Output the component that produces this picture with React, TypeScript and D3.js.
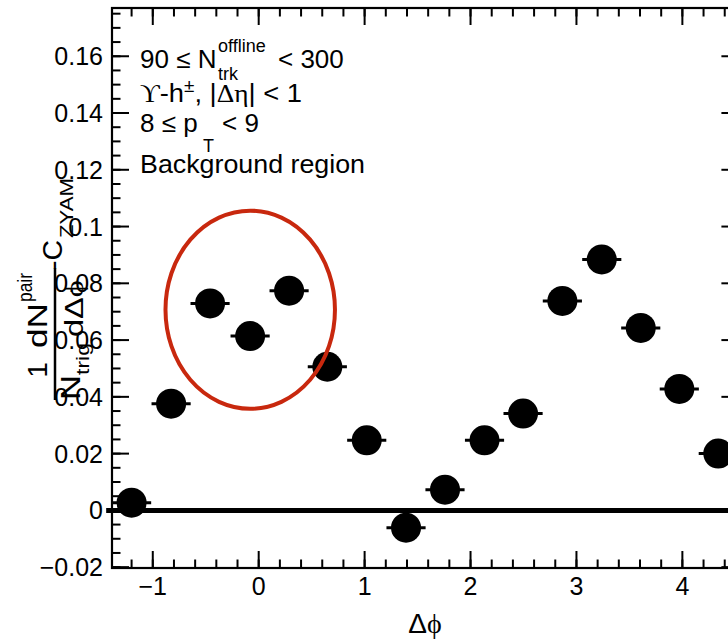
import React from 'react';
import * as d3 from 'd3';

// ---- data ----
const dphi = [-1.200, -0.827, -0.459, -0.081, 0.287, 0.648, 1.020, 1.391, 1.759, 2.132, 2.496, 2.867, 3.239, 3.607, 3.971, 4.339];
const yields = [0.0027, 0.0376, 0.0729, 0.0614, 0.0774, 0.0506, 0.0247, -0.0061, 0.0073, 0.0247, 0.0341, 0.0738, 0.0884, 0.0643, 0.0428, 0.0200];
const binHalfWidth = 0.1848;

const xMajorTicks = [-1, 0, 1, 2, 3, 4];
const xTickLabels = ['\u22121', '0', '1', '2', '3', '4'];
const yMajorTicks = [-0.02, 0, 0.02, 0.04, 0.06, 0.08, 0.1, 0.12, 0.14, 0.16];
const yTickLabels = ['\u22120.02', '0', '0.02', '0.04', '0.06', '0.08', '0.1', '0.12', '0.14', '0.16'];

// highlighted region (ellipse) in data units
const ellipseCenter = [-0.08, 0.0707];
const ellipseRadii = [0.80, 0.0349];

const W = 728;
const H = 643;
const SANS = '"Liberation Sans", Arial, Helvetica, sans-serif';
const SERIF = '"Liberation Serif", "DejaVu Serif", serif';

export default function App() {
  const x = d3.scaleLinear().domain([-1.385, 4.529]).range([112, 738.4]);
  const y = d3.scaleLinear().domain([-0.0203, 0.177]).range([568, 8]);
  const [x0, x1] = x.range();
  const [yb, yt] = y.range();

  const xMinor = d3.range(-1.2, 4.6, 0.2).filter(v => v >= -1.385 && v <= 4.529);
  const yMinor = d3.range(-0.02, 0.1771, 0.005).filter(v => v >= -0.0203 && v <= 0.177);

  const majLen = 17;
  const minLen = 8.5;

  return (
    <svg width={W} height={H} style={{ position: 'absolute', left: 0, top: 0, background: '#fff' }}
      fontFamily={SANS}>
      <rect x={0} y={0} width={W} height={H} fill="#fff" />

      {/* zero line */}
      <line x1={x(-1.44)} x2={x1} y1={y(0)} y2={y(0)} stroke="#000" strokeWidth={5} />

      {/* ticks */}
      <g stroke="#000" strokeWidth={2}>
        {xMinor.map((v, i) => (
          <g key={'xm' + i}>
            <line x1={x(v)} x2={x(v)} y1={yb} y2={yb - minLen} />
            <line x1={x(v)} x2={x(v)} y1={yt} y2={yt + minLen} />
          </g>
        ))}
        {xMajorTicks.map((v, i) => (
          <g key={'xM' + i}>
            <line x1={x(v)} x2={x(v)} y1={yb} y2={yb - majLen} />
            <line x1={x(v)} x2={x(v)} y1={yt} y2={yt + majLen} />
          </g>
        ))}
        {yMinor.map((v, i) => (
          <g key={'ym' + i}>
            <line x1={x0} x2={x0 + minLen} y1={y(v)} y2={y(v)} />
            <line x1={x1} x2={x1 - minLen} y1={y(v)} y2={y(v)} />
          </g>
        ))}
        {yMajorTicks.map((v, i) => (
          <g key={'yM' + i}>
            <line x1={x0} x2={x0 + majLen} y1={y(v)} y2={y(v)} />
            <line x1={x1} x2={x1 - majLen} y1={y(v)} y2={y(v)} />
          </g>
        ))}
      </g>

      {/* frame */}
      <rect x={x0} y={yt} width={x1 - x0} height={yb - yt} fill="none" stroke="#000" strokeWidth={2.2} />

      {/* tick labels */}
      {xMajorTicks.map((v, i) => (
        <text key={'xl' + i} x={x(v)} y={595} fontSize={25} textAnchor="middle">{xTickLabels[i]}</text>
      ))}
      {yMajorTicks.map((v, i) => (
        <text key={'yl' + i} x={103} y={y(v) + 9} fontSize={25} textAnchor="end">{yTickLabels[i]}</text>
      ))}

      {/* data: error bars + markers */}
      {dphi.map((v, i) => (
        <g key={'p' + i}>
          <line x1={x(v - binHalfWidth)} x2={x(v + binHalfWidth)} y1={y(yields[i])} y2={y(yields[i])}
            stroke="#000" strokeWidth={3} />
          <circle cx={x(v)} cy={y(yields[i])} r={15} fill="#000" />
        </g>
      ))}

      {/* highlighted ellipse */}
      <ellipse cx={x(ellipseCenter[0])} cy={y(ellipseCenter[1])}
        rx={x(ellipseCenter[0] + ellipseRadii[0]) - x(ellipseCenter[0])}
        ry={y(ellipseCenter[1]) - y(ellipseCenter[1] + ellipseRadii[1])}
        fill="none" stroke="#c8280e" strokeWidth={4} />

      {/* x-axis title */}
      <text x={425} y={633} fontSize={28} textAnchor="middle">
        <tspan>Δ</tspan><tspan fontFamily={SERIF}>ϕ</tspan>
      </text>

      {/* y-axis title: 1/N_trig dN^pair/dΔφ − C_ZYAM */}
      <g transform="translate(55,400) rotate(-90)">
        <line x1={0} x2={132} y1={0} y2={0} stroke="#000" strokeWidth={2.5} />
        <text x={30} y={-8} fontSize={28} textAnchor="middle">1</text>
        <text x={0} y={25} fontSize={27} textLength={25} lengthAdjust="spacingAndGlyphs">N</text>
        <text x={25} y={34} fontSize={19} textLength={32} lengthAdjust="spacingAndGlyphs">trig</text>
        <text x={52} y={-8} fontSize={28} textLength={45} lengthAdjust="spacingAndGlyphs">dN</text>
        <text x={98} y={-23} fontSize={20} textLength={29} lengthAdjust="spacingAndGlyphs">pair</text>
        <text x={63} y={28} fontSize={25} textLength={57} lengthAdjust="spacingAndGlyphs">
          <tspan>dΔ</tspan><tspan fontFamily={SERIF}>ϕ</tspan>
        </text>
        <text x={130} y={7} fontSize={28} textLength={30} lengthAdjust="spacingAndGlyphs">-C</text>
        <text x={162} y={18} fontSize={19} textLength={60} lengthAdjust="spacingAndGlyphs">ZYAM</text>
      </g>

      {/* legend text */}
      <g fontSize={26}>
        <text x={140} y={68}>90 ≤ N</text>
        <text x={218} y={52} fontSize={18}>offline</text>
        <text x={218} y={80} fontSize={18}>trk</text>
        <text x={278} y={68}>{'< 300'}</text>

        <text x={140} y={102} textLength={162} lengthAdjust="spacingAndGlyphs">
          <tspan fontFamily={SERIF}>ϒ</tspan>
          <tspan>-h</tspan>
          <tspan fontSize={18} dy={-10}>±</tspan>
          <tspan dy={10}>, |</tspan>
          <tspan fontFamily={SERIF}>Δη</tspan>
          <tspan>{'| < 1'}</tspan>
        </text>

        <text x={140} y={132}>8 ≤ p</text>
        <text x={203} y={152} fontSize={18}>T</text>
        <text x={222} y={132}>{'< 9'}</text>

        <text x={140} y={173} textLength={225} lengthAdjust="spacingAndGlyphs">Background region</text>
      </g>
    </svg>
  );
}
